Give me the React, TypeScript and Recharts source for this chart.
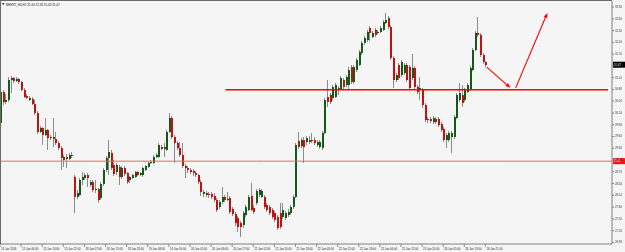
import React from 'react';
import { ComposedChart, Bar, XAxis, YAxis, ReferenceLine } from 'recharts';

const OPEN = [29.98,30.77,30.52,30.57,31.08,31.13,31.05,31.11,31.03,30.83,30.67,30.57,30.60,30.47,30.24,29.75,29.86,29.68,29.80,29.60,29.63,29.58,29.47,29.35,29.04,29.12,29.07,29.17,
28.61,28.10,28.15,28.53,28.58,28.66,28.40,28.48,28.28,28.30,28.07,28.43,28.79,29.09,29.22,28.91,28.73,28.86,28.61,28.84,28.71,28.53,28.58,28.61,28.73,28.66,28.66,28.79,28.86,28.96,28.96,29.12,29.12,29.37,29.32,29.30,29.75,30.11,29.63,29.47,29.35,29.17,
28.89,28.84,28.79,28.76,28.71,28.66,28.48,28.17,28.20,28.17,28.17,28.12,28.02,27.84,27.97,28.10,28.02,28.07,27.79,27.66,27.56,27.43,27.38,27.64,27.77,28.12,27.82,27.94,28.15,28.10,
28.10,27.89,27.84,27.77,27.69,27.59,27.69,27.59,27.56,27.64,27.69,27.84,28.10,29.52,29.40,29.55,29.50,29.55,29.52,29.55,29.42,29.37,29.35,29.73,30.65,30.70,30.62,30.65,30.88,30.85,
31.08,30.95,30.95,31.41,31.03,31.34,31.46,31.77,32.02,32.10,32.41,32.18,32.36,32.28,32.30,32.36,32.53,32.66,32.43,31.64,31.08,31.46,31.21,31.26,31.46,31.41,31.13,31.39,30.90,30.85,
30.83,30.44,30.06,30.09,30.01,30.09,30.09,29.96,29.83,29.55,29.55,29.63,29.63,30.11,30.57,30.70,30.57,30.77,30.83,31.34,31.85,32.28,32.23,31.72,31.54];
const HIGH = [30.88,30.83,30.72,31.16,31.18,31.16,31.16,31.13,31.05,30.88,30.72,30.67,30.65,30.57,30.29,29.91,29.88,30.11,29.83,29.68,30.11,29.75,29.52,29.40,29.17,29.19,29.22,29.24,
28.66,28.28,28.58,28.73,28.71,28.71,28.53,28.53,28.53,28.33,28.48,28.84,29.14,29.55,29.30,29.04,28.96,28.91,28.89,28.89,28.73,28.63,28.68,28.76,28.76,28.73,28.86,28.91,28.99,29.04,29.17,29.22,29.47,29.42,29.47,29.80,30.24,30.16,29.68,29.52,29.50,29.47,
28.94,28.89,28.84,28.81,28.76,28.68,28.53,28.28,28.25,28.22,28.22,28.20,28.07,28.02,28.35,28.15,28.22,28.12,27.84,27.71,27.61,27.48,27.74,27.89,28.15,28.45,27.89,28.30,28.33,28.30,
28.15,27.94,27.89,27.82,27.74,27.64,27.94,27.94,27.74,27.79,27.89,28.15,29.47,29.75,29.60,29.63,29.65,29.65,29.73,29.63,29.55,29.55,29.78,30.62,31.08,30.75,30.95,31.00,30.93,31.18,
31.13,31.21,31.41,31.46,31.46,31.64,31.85,32.07,32.20,32.36,32.46,32.33,32.41,32.36,32.46,32.61,32.79,32.71,32.48,31.69,31.26,31.51,31.59,31.51,31.51,31.46,31.74,31.44,30.95,31.16,
30.88,30.49,30.14,30.14,30.16,30.14,30.14,30.01,29.88,29.73,29.78,29.78,30.19,30.75,31.00,30.95,30.88,31.00,31.44,31.90,32.33,32.69,32.28,31.77,31.56];
const LOW = [29.93,30.44,30.47,30.52,30.75,31.00,31.03,30.98,30.80,30.62,30.60,30.54,30.44,30.19,29.70,29.73,29.42,29.65,29.30,29.55,29.37,29.42,29.30,28.79,28.86,28.84,29.04,29.09,
27.69,28.05,28.12,28.40,28.53,28.35,28.35,28.22,28.20,27.94,28.02,28.38,28.73,28.66,28.79,28.63,28.66,28.40,28.56,28.63,28.43,28.45,28.56,28.58,28.63,28.63,28.61,28.76,28.84,28.94,28.94,29.09,29.09,29.30,29.12,29.27,29.73,29.58,28.96,29.30,29.12,28.84,
28.58,28.71,28.68,28.63,28.61,28.43,28.12,28.10,28.10,28.07,28.05,27.97,27.71,27.79,27.92,27.97,27.99,27.66,27.61,27.36,27.20,27.08,27.31,27.59,27.74,27.74,27.66,27.89,28.10,28.07,
27.79,27.71,27.64,27.54,27.46,27.26,27.28,27.54,27.51,27.59,27.64,27.79,28.07,29.32,29.35,28.96,29.42,29.45,29.47,29.42,29.37,29.32,29.30,29.70,30.39,30.47,30.57,30.62,30.70,30.83,
30.85,30.90,30.83,30.98,30.98,31.28,31.44,31.72,31.97,32.05,32.07,32.15,32.18,32.25,32.28,32.33,32.51,32.38,31.59,30.88,31.03,31.08,31.16,31.21,31.03,30.83,31.08,30.85,30.72,30.57,
30.37,30.01,29.98,29.98,29.96,29.96,29.88,29.75,29.50,29.35,29.50,29.22,29.58,30.09,30.52,30.39,30.52,30.75,30.80,31.31,31.82,32.18,31.67,31.49,31.41];
const CLOSE = [30.77,30.52,30.57,31.08,31.13,31.05,31.11,31.03,30.83,30.65,30.62,30.62,30.47,30.24,29.75,29.86,29.68,29.80,29.60,29.63,29.58,29.47,29.35,29.09,29.12,29.07,29.17,29.14,
28.10,28.20,28.53,28.61,28.66,28.58,28.48,28.28,28.30,28.02,28.43,28.79,29.09,29.24,28.84,28.68,28.91,28.61,28.84,28.68,28.48,28.61,28.66,28.73,28.66,28.71,28.84,28.89,28.96,28.99,29.12,29.17,29.42,29.32,29.37,29.75,30.11,29.63,29.47,29.35,29.17,28.89,
28.84,28.79,28.73,28.71,28.66,28.48,28.22,28.22,28.15,28.15,28.10,28.02,27.77,27.97,28.10,28.02,28.05,27.71,27.66,27.43,27.33,27.33,27.69,27.84,28.10,27.77,27.71,28.25,28.28,28.25,
27.84,27.77,27.69,27.59,27.51,27.31,27.33,27.77,27.69,27.71,27.84,28.10,29.42,29.37,29.55,29.37,29.60,29.50,29.55,29.47,29.50,29.50,29.73,30.57,30.52,30.52,30.90,30.95,30.83,31.13,
30.90,31.16,31.34,31.03,31.41,31.59,31.79,32.02,32.15,32.30,32.28,32.28,32.23,32.30,32.41,32.56,32.61,32.43,31.64,31.08,31.21,31.13,31.54,31.46,31.08,30.88,31.39,30.90,30.77,30.88,
30.44,30.06,30.09,30.03,30.11,30.01,29.93,29.80,29.55,29.68,29.73,29.73,30.14,30.70,30.75,30.49,30.83,30.95,31.39,31.85,32.28,32.23,31.72,31.54,31.47];

const TIME_LABELS = ['14 Jan 2016','15 Jan 06:00','15 Jan 14:00','15 Jan 22:00','18 Jan 07:00','18 Jan 15:00','18 Jan 23:00','19 Jan 08:00','19 Jan 16:00','20 Jan 01:00','20 Jan 09:00','20 Jan 17:00','21 Jan 02:00','21 Jan 10:00','21 Jan 18:00','22 Jan 03:00','22 Jan 11:00','22 Jan 19:00','25 Jan 04:00','25 Jan 12:00','25 Jan 20:00','26 Jan 05:00','26 Jan 13:00','26 Jan 21:00'];
const PRICE_TICKS = [32.94,32.64,32.34,32.04,31.74,31.44,31.14,30.84,30.54,30.24,29.94,29.64,29.34,29.04,28.74,28.44,28.14,27.84,27.54,27.24,26.94];
const Y_DOMAIN = [26.898, 33.0945];
const SLOTS = 232;
const LABEL_EVERY = 8;
const CURRENT_PRICE = 31.47;
const ALERT_LEVEL = 29.01;
const SUPPORT_LEVEL = 30.83;
const SUPPORT_FROM = 85;
const SUPPORT_TO = 230;
const ARROW_DOWN = [{ x: 184, y: 31.41 }, { x: 193, y: 30.88 }];
const ARROW_UP = [{ x: 195, y: 30.88 }, { x: 207, y: 32.79 }];
const TITLE = 'BRENT_H4,H1  31.44 31.58 31.43 31.47';

const data = Array.from({ length: SLOTS }, (_, i) =>
  i < OPEN.length
    ? { i, o: OPEN[i], h: HIGH[i], l: LOW[i], c: CLOSE[i], range: [LOW[i], HIGH[i]] }
    : { i, range: null }
);

const FONT = 'Liberation Sans, Arial, sans-serif';

function Candle(props: any) {
  const { x, y, width, height, payload } = props;
  if (!payload || payload.o == null || typeof y !== 'number' || typeof height !== 'number') return <g />;
  const top = Math.min(y, y + height);
  const span = Math.abs(height);
  const H = payload.h, L = payload.l;
  const pix = (p: number) => (H === L ? top : top + ((H - p) / (H - L)) * span);
  const cx = x + width / 2;
  const bx = Math.round(cx - 1);
  const up = payload.c >= payload.o;
  const yo = pix(payload.o), yc = pix(payload.c);
  const bt = Math.min(yo, yc);
  const bh = Math.max(1, Math.abs(yo - yc));
  return (
    <g>
      <rect x={bx} y={top} width={1} height={Math.max(1, span)} fill="#8c8c8c" shapeRendering="crispEdges" />
      <rect x={bx} y={bt} width={2} height={bh} fill={up ? '#15591a' : '#c41010'} shapeRendering="crispEdges" />
    </g>
  );
}

function TimeTick(props: any) {
  const { x, y, payload } = props;
  const v = payload ? payload.value : null;
  if (typeof v !== 'number' || v % LABEL_EVERY !== 0) return <g />;
  const k = v / LABEL_EVERY;
  if (k >= TIME_LABELS.length) return <g />;
  const x0 = x - 1.3;
  return (
    <g>
      <line x1={x0} y1={y} x2={x0} y2={y + 3} stroke="#777" strokeWidth={0.8} />
      <text x={x0 + 1} y={y + 5.6} fontSize={2.8} fill="#222" fontFamily={FONT}>{TIME_LABELS[k]}</text>
    </g>
  );
}

function PriceTick(props: any) {
  const { x, y, payload } = props;
  return (
    <text x={x} y={y} dy={1} fontSize={2.7} fill="#222" fontFamily={FONT} textAnchor="start">
      {Number(payload.value).toFixed(2)}
    </text>
  );
}

const priceBox = (val: number, bg: string) => (p: any) => {
  const vb = p && p.viewBox ? p.viewBox : {};
  const right = (vb.x || 0) + (vb.width || 0);
  const cy = vb.y || 0;
  return (
    <g>
      <rect x={right + 1} y={cy - 3} width={12} height={6} fill={bg} />
      <text x={right + 2} y={cy + 1} fontSize={2.7} fill="#fff" fontFamily={FONT}>{val.toFixed(2)}</text>
    </g>
  );
};

const Arrow = (p: any) => {
  const { x1, y1, x2, y2 } = p;
  if ([x1, y1, x2, y2].some((v) => typeof v !== 'number' || isNaN(v))) return <g />;
  const a = Math.atan2(y2 - y1, x2 - x1);
  const L = 5, W = 2;
  const bx = x2 - L * Math.cos(a), by = y2 - L * Math.sin(a);
  const px = -Math.sin(a) * W, py = Math.cos(a) * W;
  return (
    <g>
      <line x1={x1} y1={y1} x2={bx} y2={by} stroke="#ff0000" strokeWidth={1.1} />
      <polygon points={`${x2},${y2} ${bx + px},${by + py} ${bx - px},${by - py}`} fill="#ff0000" />
    </g>
  );
};

export default function App() {
  return (
    <div style={{ position: 'absolute', left: 0, top: 0, width: 625, height: 252, background: '#f5f5f5', overflow: 'hidden' }}>
      <ComposedChart width={625} height={252} data={data} margin={{ top: 1, right: 0, bottom: 0, left: 0 }}>
        <XAxis dataKey="i" type="category" interval={0} height={8} tickSize={0} tickMargin={0} tickLine={false}
          axisLine={{ stroke: '#808080' }} tick={<TimeTick />} />
        <YAxis orientation="right" width={13} domain={Y_DOMAIN} allowDataOverflow ticks={PRICE_TICKS} interval={0}
          tickSize={2} tickMargin={1} axisLine={{ stroke: '#808080' }} tickLine={{ stroke: '#808080' }} tick={<PriceTick />} />
        <ReferenceLine y={ALERT_LEVEL} stroke="#e46a6a" strokeWidth={1} label={priceBox(ALERT_LEVEL, '#ff1010')} />
        <ReferenceLine y={CURRENT_PRICE} stroke="none" label={priceBox(CURRENT_PRICE, '#000000')} />
        <Bar dataKey="range" barSize={2} shape={<Candle />} isAnimationActive={false} />
        <ReferenceLine segment={[{ x: SUPPORT_FROM, y: SUPPORT_LEVEL }, { x: SUPPORT_TO, y: SUPPORT_LEVEL }]} stroke="#ff0000" strokeWidth={1.5} />
        <ReferenceLine segment={ARROW_DOWN} stroke="#ff0000" shape={Arrow} />
        <ReferenceLine segment={ARROW_UP} stroke="#ff0000" shape={Arrow} />
      </ComposedChart>
      <div style={{ position: 'absolute', left: 0, top: 0, width: 612, height: 244, borderTop: '1px solid #6a6a6a', borderLeft: '1px solid #6a6a6a', boxSizing: 'border-box', pointerEvents: 'none' }} />
      <svg width={625} height={10} style={{ position: 'absolute', left: 0, top: 0, pointerEvents: 'none' }}>
        <polygon points="2,3 4.5,3 3.25,5.2" fill="#333" />
        <text x={6} y={6} fontSize={3} fill="#222" fontFamily={FONT}>{TITLE}</text>
      </svg>
    </div>
  );
}
